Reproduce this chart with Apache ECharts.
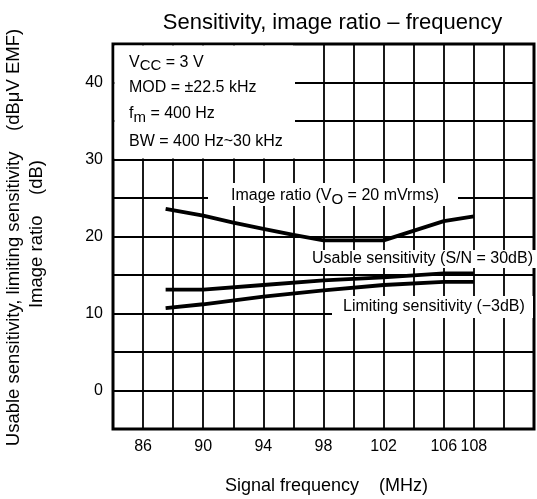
<!DOCTYPE html>
<html><head><meta charset="utf-8">
<script src="https://cdn.jsdelivr.net/npm/echarts@6/dist/echarts.min.js"></script>
<style>html,body{margin:0;padding:0;background:#fff}#c{width:537px;height:499px}</style>
</head><body><div id="c"></div>
<script>
const FONT = '"Liberation Sans", Arial, Helvetica, sans-serif';
const xTickLabels = [86, 90, 94, 98, 102, 106, 108];
const yTickLabels = [0, 10, 20, 30, 40];
const imageFreq = [87.5, 90, 92, 94, 96, 98, 102, 106, 108];
const imageRatio = [23.6, 22.7, 21.8, 21.0, 20.2, 19.5, 19.5, 22.0, 22.6];
const sensFreq = [87.5, 90, 94, 98, 102, 106, 108];
const usableSens = [13.1, 13.1, 13.7, 14.3, 14.7, 15.2, 15.2];
const limitingSens = [10.7, 11.2, 12.2, 13.0, 13.7, 14.1, 14.1];
const pair = (xs, ys) => xs.map((x, i) => [x, ys[i]]);

const chart = echarts.init(document.getElementById('c'), null, {renderer: 'canvas'});

const baseTok = {fontSize: 16, fontFamily: FONT, fill: '#000'};
const subTok = {fontSize: 15, fontFamily: FONT, fill: '#000', padding: [7, 0, 0, 0]};
function txt(x, y, text, opts) {
  return Object.assign({
    type: 'text', x: x, y: y, z: 3,
    style: Object.assign({
      text: text, fill: '#000', fontSize: 16, fontFamily: FONT,
      align: 'left', verticalAlign: 'middle',
      rich: {n: baseTok, s: subTok}
    }, (opts && opts.style) || {})
  }, (opts && opts.el) || {});
}
function box(x1, y1, x2, y2) {
  return {type: 'rect', z: 1, shape: {x: x1, y: y1, width: x2 - x1, height: y2 - y1},
          style: {fill: '#fff', stroke: null}};
}

const lineStyle = {color: '#000', width: 3.8};
chart.setOption({
  animation: false,
  backgroundColor: '#fff',
  grid: {left: 113, top: 44, width: 427, height: 385, show: true,
         borderColor: '#000', borderWidth: 3, backgroundColor: 'transparent'},
  xAxis: {
    type: 'value', min: 84, max: 112, interval: 2,
    axisLine: {show: false}, axisTick: {show: false},
    splitLine: {show: true, lineStyle: {color: '#000', width: 1.8}},
    axisLabel: {margin: 10, fontSize: 16, color: '#000', fontFamily: FONT,
      formatter: v => xTickLabels.includes(v) ? String(v) : ''}
  },
  yAxis: {
    type: 'value', min: -5, max: 45, interval: 5,
    axisLine: {show: false}, axisTick: {show: false},
    splitLine: {show: true, lineStyle: {color: '#000', width: 1.8}},
    axisLabel: {margin: 10, fontSize: 16, color: '#000', fontFamily: FONT,
      formatter: v => yTickLabels.includes(v) ? String(v) : ''}
  },
  series: [
    {type: 'line', name: 'Image ratio', data: pair(imageFreq, imageRatio), symbol: 'none', lineStyle: lineStyle, z: 4},
    {type: 'line', name: 'Usable sensitivity', data: pair(sensFreq, usableSens), symbol: 'none', lineStyle: lineStyle, z: 4},
    {type: 'line', name: 'Limiting sensitivity', data: pair(sensFreq, limitingSens), symbol: 'none', lineStyle: lineStyle, z: 4}
  ],
  graphic: [
    box(114.5, 45.5, 295, 158.5),
    txt(129, 62.3, '{n|V}{s|CC}{n| = 3 V}'),
    txt(129, 87.3, 'MOD = \u00B122.5 kHz'),
    txt(129, 114, '{n|f}{s|m}{n| = 400 Hz}'),
    txt(129, 141.5, 'BW = 400 Hz~30 kHz'),
    box(208, 183, 458, 206),
    txt(231, 196, '{n|Image ratio (V}{s|O}{n| = 20 mVrms)}'),
    box(305, 250, 540, 268),
    txt(312, 259, 'Usable sensitivity (S/N = 30dB)'),
    box(332, 296, 533, 318),
    txt(343, 307, 'Limiting sensitivity (\u22123dB)'),
    txt(332.5, 23, 'Sensitivity, image ratio \u2013 frequency', {style: {align: 'center', fontSize: 22}}),
    txt(326.5, 486, 'Signal frequency    (MHz)', {style: {align: 'center', fontSize: 18}}),
    txt(14, 237.5, 'Usable sensitivity, limiting sensitivity    (dB\u03BCV EMF)', {style: {align: 'center', fontSize: 18.5}, el: {rotation: Math.PI / 2}}),
    txt(37, 234, 'Image ratio    (dB)', {style: {align: 'center', fontSize: 18.5}, el: {rotation: Math.PI / 2}})
  ]
});
</script></body></html>
